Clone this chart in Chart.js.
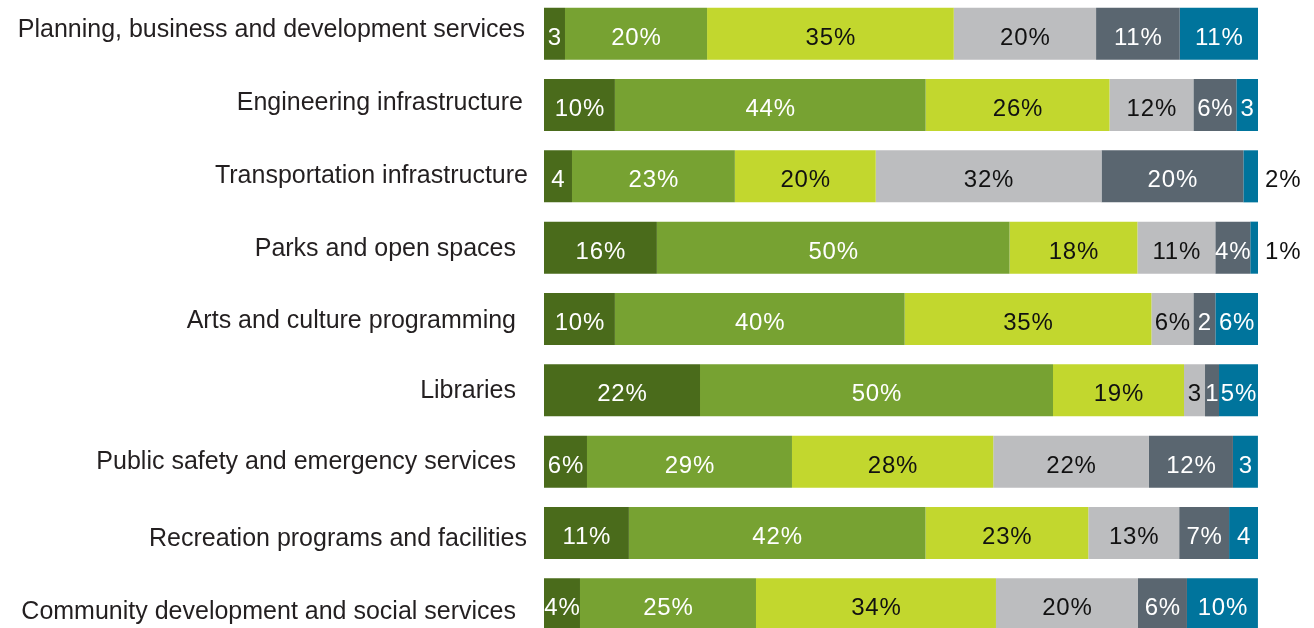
<!DOCTYPE html>
<html>
<head>
<meta charset="utf-8">
<script src="https://cdn.jsdelivr.net/npm/chart.js@4/dist/chart.umd.min.js"></script>
<style>
  html, body { margin: 0; padding: 0; background: #fff; overflow: hidden; }
  #wrap { position: absolute; left: 0; top: -2px; width: 1314px; height: 642px; }
</style>
</head>
<body>
<div id="wrap"><canvas id="canvas" width="1314" height="642"></canvas></div>
<script>
// categories, top to bottom
const categories = [
  'Planning, business and development services',
  'Engineering infrastructure',
  'Transportation infrastructure',
  'Parks and open spaces',
  'Arts and culture programming',
  'Libraries',
  'Public safety and emergency services',
  'Recreation programs and facilities',
  'Community development and social services'
];

// segment shares (% of bar length)
const seg1 = [2.94, 9.93, 3.92, 15.81, 9.93, 21.85, 6.02, 11.89, 5.04];
const seg2 = [19.9, 43.52, 22.81, 49.39, 40.58, 49.44, 28.71, 41.54, 24.65];
const seg3 = [34.55, 25.75, 19.73, 17.91, 34.56, 18.35, 28.19, 22.8, 33.61];
const seg4 = [19.93, 11.75, 31.62, 10.91, 5.88, 2.94, 21.81, 12.73, 19.89];
const seg5 = [11.72, 6.02, 19.87, 4.9, 3.08, 1.96, 11.76, 6.99, 6.86];
const seg6 = [10.97, 3.04, 2.06, 1.08, 5.97, 5.46, 3.5, 4.06, 9.94];

// numbers printed on the segments
const printed1 = [3, 10, 4, 16, 10, 22, 6, 11, 4];
const printed2 = [20, 44, 23, 50, 40, 50, 29, 42, 25];
const printed3 = [35, 26, 20, 18, 35, 19, 28, 23, 34];
const printed4 = [20, 12, 32, 11, 6, 3, 22, 13, 20];
const printed5 = [11, 6, 20, 4, 2, 1, 12, 7, 6];
const printed6 = [11, 3, 2, 1, 6, 5, 3, 4, 10];

const series = [seg1, seg2, seg3, seg4, seg5, seg6];
const printed = [printed1, printed2, printed3, printed4, printed5, printed6];

const colors = ['#4a6b1b', '#77a232', '#c2d72e', '#bcbdbf', '#5a6670', '#00749c'];
const textColors = ['#fff', '#fff', '#111', '#111', '#fff', '#fff'];

// category names are not evenly placed in the original
const nameNudgeX = [9, 7, 12, 0, 0, 0, 0, 11, 0];
const nameNudgeY = [-6, -4, -2, -1, 0, -1, -2, 4, 6];

const segLabels = {
  id: 'segLabels',
  afterDatasetsDraw(chart) {
    const ctx = chart.ctx;
    const last = chart.data.datasets.length - 1;
    const sp = 0.8;
    ctx.save();
    ctx.font = '24px "Liberation Sans", Arial, sans-serif';
    ctx.letterSpacing = sp + 'px';
    ctx.textBaseline = 'alphabetic';
    chart.data.datasets.forEach((ds, di) => {
      chart.getDatasetMeta(di).data.forEach((bar, i) => {
        const w = bar.x - bar.base;
        const n = printed[di][i];
        const y = bar.y + 11;
        if (di === last && w < 17) {
          ctx.textAlign = 'left';
          ctx.fillStyle = '#111';
          ctx.fillText(n + '%', bar.x + 7, y);
        } else {
          ctx.textAlign = 'center';
          ctx.fillStyle = textColors[di];
          ctx.fillText(w < 33 ? String(n) : n + '%', (bar.x + bar.base) / 2 + sp / 2, y);
        }
      });
    });
    ctx.restore();
  }
};

const categoryNames = {
  id: 'categoryNames',
  afterDraw(chart) {
    const ctx = chart.ctx;
    const yScale = chart.scales.y;
    ctx.save();
    ctx.font = '25px "Liberation Sans", Arial, sans-serif';
    ctx.fillStyle = '#231f20';
    ctx.textAlign = 'right';
    ctx.textBaseline = 'alphabetic';
    chart.data.labels.forEach((name, i) => {
      const y = yScale.getPixelForValue(i) + nameNudgeY[i] + 9;
      ctx.fillText(name, chart.chartArea.left - 28 + nameNudgeX[i], y);
    });
    ctx.restore();
  }
};

const ctx = document.getElementById('canvas').getContext('2d');
const chart = new Chart(ctx, {
  type: 'bar',
  data: {
    labels: categories,
    datasets: series.map((vals, k) => ({
      label: 'Segment ' + (k + 1),
      data: vals,
      backgroundColor: colors[k],
      borderWidth: 0,
      barPercentage: 0.73,
      categoryPercentage: 1
    }))
  },
  options: {
    indexAxis: 'y',
    responsive: false,
    animation: false,
    layout: { padding: { left: 544, right: 56, top: 0, bottom: 0 } },
    plugins: { legend: { display: false }, tooltip: { enabled: false } },
    scales: {
      x: { stacked: true, min: 0, max: 100, display: false },
      y: { stacked: true, display: false }
    }
  },
  plugins: [segLabels, categoryNames]
});
</script>
</body>
</html>
